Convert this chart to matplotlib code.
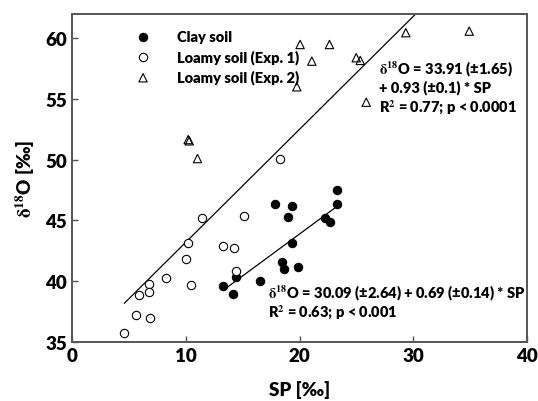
import matplotlib
matplotlib.use('Agg')
import matplotlib.pyplot as plt
import numpy as np

plt.rcParams['font.family'] = ['Lato', 'DejaVu Sans']
plt.rcParams['font.weight'] = 'heavy'
plt.rcParams['mathtext.fontset'] = 'stix'

# SP [permil] and d18O [permil] per soil
clay_sp = [23.27, 23.27, 17.82, 19.37, 18.96, 22.21, 22.68, 19.37, 18.46, 18.64,
           19.84, 16.53, 13.27, 14.10, 14.39]
clay_d18o = [47.53, 46.35, 46.32, 46.20, 45.25, 45.22, 44.83, 43.14, 41.57, 41.04,
             41.18, 40.03, 39.64, 38.96, 40.33]

loam1_sp = [18.26, 11.40, 15.12, 10.23, 13.22, 14.24, 10.05, 8.26, 14.39, 6.77,
            10.49, 5.89, 6.74, 5.63, 6.83, 4.60]
loam1_d18o = [50.06, 45.20, 45.36, 43.16, 42.91, 42.72, 41.79, 40.30, 40.85, 39.75,
              39.70, 38.90, 39.10, 37.20, 36.98, 35.72]

loam2_sp = [10.20, 10.30, 11.02, 20.04, 19.75, 22.62, 21.07, 24.97, 25.32, 25.85,
            29.33, 34.90]
loam2_d18o = [51.65, 51.55, 50.09, 59.48, 56.00, 59.48, 58.11, 58.39, 58.17, 54.73,
              60.45, 60.58]

# regression coefficients (intercept, slope)
loam_fit = (33.91, 0.93)
clay_fit = (30.09, 0.69)

W = 'heavy'

fig = plt.figure(figsize=(5.38, 4.02), dpi=100)
ax = fig.add_axes([0.134, 0.147, 0.846, 0.816])

ax.scatter(clay_sp, clay_d18o, s=36, c='black', edgecolors='black', linewidths=0.8,
           label='Clay soil', zorder=3)
ax.scatter(loam1_sp, loam1_d18o, s=36, facecolors='white', edgecolors='black',
           linewidths=0.8, label='Loamy soil (Exp. 1)', zorder=3)
ax.scatter(loam2_sp, loam2_d18o, s=36, marker='^', facecolors='none', edgecolors='black',
           linewidths=0.8, label='Loamy soil (Exp. 2)', zorder=3)

# regression lines over the data range
loam_x = np.array([min(loam1_sp + loam2_sp), max(loam1_sp + loam2_sp)])
ax.plot(loam_x, loam_fit[0] + loam_fit[1] * loam_x, color='black', lw=0.9, zorder=2)
clay_x = np.array([min(clay_sp), max(clay_sp)])
ax.plot(clay_x, clay_fit[0] + clay_fit[1] * clay_x, color='black', lw=0.9, zorder=2)

ax.text(27.0, 57.5, r'$\mathrm{\delta}^{18}$O = 33.91 (±1.65)', fontsize=10.5,
        fontweight=W, va='center')
ax.text(27.0, 56.0, '+ 0.93 (±0.1) * SP', fontsize=10.5, fontweight=W, va='center')
ax.text(27.0, 54.4, r'R$^{\mathbf{2}}$ = 0.77; p < 0.0001', fontsize=10.5, fontweight=W,
        va='center')

ax.text(17.2, 39.1, r'$\mathrm{\delta}^{18}$O = 30.09 (±2.64) + 0.69 (±0.14) * SP',
        fontsize=10.5, fontweight=W, va='center')
ax.text(17.2, 37.5, r'R$^{\mathbf{2}}$ = 0.63; p < 0.001', fontsize=10.5, fontweight=W,
        va='center')

ax.set_xlim(0, 40)
ax.set_ylim(35, 62)
ax.set_xticks([0, 10, 20, 30, 40])
ax.set_yticks([35, 40, 45, 50, 55, 60])
ax.tick_params(direction='in', length=4, width=1, labelsize=13.5, color='#555555')
for lab in ax.get_xticklabels() + ax.get_yticklabels():
    lab.set_fontweight(W)
for sp in ax.spines.values():
    sp.set_color('#555555')
    sp.set_linewidth(1.4)

ax.set_xlabel('SP [‰]', fontsize=13.5, fontweight=W, labelpad=12)
ax.set_ylabel(r'$\mathrm{\delta}^{18}$O [‰]', fontsize=13.5, fontweight=W, labelpad=6)

ax.legend(loc='upper left', bbox_to_anchor=(0.095, 0.99), frameon=False,
          handletextpad=1.3, labelspacing=0.4, prop={'weight': W, 'size': 10.5})

fig.savefig('out.png', dpi=100)
